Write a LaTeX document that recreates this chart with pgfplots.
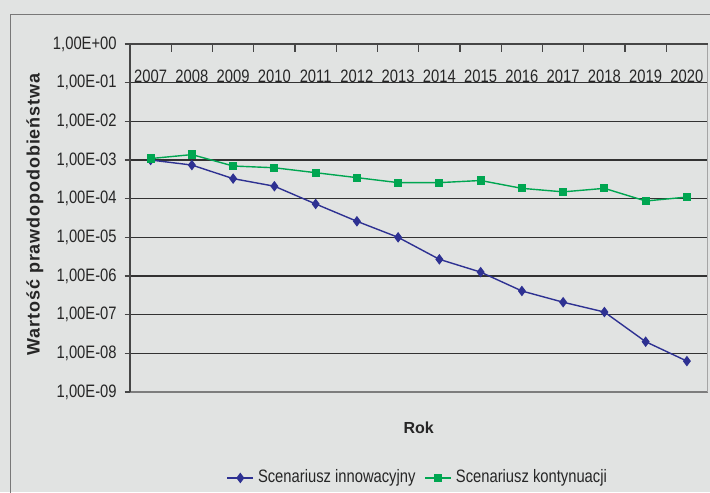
\documentclass[border=0pt]{standalone}
\usepackage{fontspec}
\setmainfont{Liberation Sans}
\newfontfamily\cond[FakeStretch=0.82]{Liberation Sans}
\newfontfamily\spaced[LetterSpace=5]{Liberation Sans}
\usepackage{pgfplots}
\pgfplotsset{compat=1.18}
\usepackage{pgfplotstable}

\definecolor{bg}{RGB}{225,227,226}
\definecolor{innov}{RGB}{46,49,146}
\definecolor{kont}{RGB}{0,166,81}
\definecolor{gridc}{RGB}{50,50,50}
\definecolor{axdark}{RGB}{70,70,70}
\definecolor{frame}{RGB}{120,120,120}

% probability for each year: innovation scenario and continuation scenario
\pgfplotstableread{
year innow     kont
2007 1.00e-3   1.09e-3
2008 7.40e-4   1.38e-3
2009 3.30e-4   7.00e-4
2010 2.10e-4   6.30e-4
2011 7.30e-5   4.70e-4
2012 2.60e-5   3.50e-4
2013 1.00e-5   2.60e-4
2014 2.70e-6   2.60e-4
2015 1.26e-6   2.95e-4
2016 4.10e-7   1.85e-4
2017 2.10e-7   1.50e-4
2018 1.17e-7   1.85e-4
2019 2.00e-8   8.70e-5
2020 6.30e-9   1.10e-4
}\probdata

\begin{document}
\begin{tikzpicture}[x=1pt,y=1pt]
\useasboundingbox (0,0) rectangle (355,246);
\fill[bg] (0,0) rectangle (355,246);
\clip (0,0) rectangle (355,246);
\draw[frame, line width=0.5pt] (5,-10) rectangle (370,238.5);
\begin{axis}[
  at={(65pt,50pt)}, anchor=south west,
  scale only axis, width=288.75pt, height=174pt,
  ymode=log, ymin=1e-9, ymax=1,
  xmin=0, xmax=14,
  axis line style={draw=none},
  tick align=inside,
  major tick length=3.8pt,
  xtick={0,1,...,14}, xticklabels={},
  xtick pos=right, xticklabel pos=right,
  extra x ticks={0.5,1.5,...,13.5},
  extra x tick labels={2007,2008,2009,2010,2011,2012,2013,2014,2015,2016,2017,2018,2019,2020},
  extra x tick style={major tick length=0pt},
  xticklabel style={anchor=center, yshift=-16.3pt, inner sep=0pt,
    font=\cond\fontsize{9}{10}\selectfont, text=black!85},
  x tick style={axdark, line width=0.6pt},
  ytick=\empty, ytick pos=left,
  extra y ticks={1e-9,1e-8,1e-7,1e-6,1e-5,1e-4,1e-3,1e-2,1e-1,1},
  extra y tick labels={{1,00E-09},{1,00E-08},{1,00E-07},{1,00E-06},{1,00E-05},
    {1,00E-04},{1,00E-03},{1,00E-02},{1,00E-01},{1,00E+00}},
  extra y tick style={grid=major, tick align=outside, major tick length=2.7pt,
    y tick style={axdark, line width=0.6pt}},
  minor y tick num=0, yminorticks=false,
  major grid style={gridc, line width=0.55pt},
  yticklabel style={anchor=east, inner sep=0pt, xshift=-3.8pt,
    font=\cond\fontsize{9}{10}\selectfont, text=black!85},
  xlabel={Rok},
  xlabel style={at={(axis description cs:0.5,-0.1034)}, anchor=center,
    font=\bfseries\fontsize{8}{9}\selectfont, text=black!85},
  ylabel={Wartość prawdopodobieństwa},
  ylabel style={at={(axis description cs:-0.1646,0.51)}, anchor=center,
    font=\spaced\bfseries\fontsize{9}{10}\selectfont, text=black!85},
  legend columns=2,
  legend style={at={(0.5,-0.247)}, anchor=center, draw=none, fill=none,
    font=\cond\fontsize{9}{10}\selectfont, text=black!85,
    /tikz/every even column/.append style={column sep=2.5pt}},
  legend image code/.code={\draw[mark repeat=2, mark phase=2]
    plot coordinates {(0pt,0pt) (6.5pt,0pt) (13pt,0pt)};},
  after end axis/.code={
    \draw[RGB/.style={}, color={rgb,255:red,125;green,125;blue,125}, line width=0.6pt]
      (rel axis cs:0,0) -- (rel axis cs:1,0);
    \draw[color={rgb,255:red,165;green,165;blue,165}, line width=0.8pt]
      (rel axis cs:1,0) -- (rel axis cs:1,1);
    \draw[axdark, line width=0.6pt] (rel axis cs:0,0) -- (rel axis cs:0,1);
    \draw[axdark, line width=0.7pt] (rel axis cs:0,1) -- (rel axis cs:1,1);
  },
]
\addplot[innov, line width=0.7pt, mark=diamond*, mark size=2.1pt,
  mark options={solid, fill=innov}]
  table[x expr=\thisrow{year}-2006.5, y=innow] {\probdata};
\addlegendentry{Scenariusz innowacyjny}
\addplot[kont, line width=0.7pt, mark=square*, mark size=1.7pt,
  mark options={solid, fill=kont}]
  table[x expr=\thisrow{year}-2006.5, y=kont] {\probdata};
\addlegendentry{Scenariusz kontynuacji}
\end{axis}
\end{tikzpicture}
\end{document}
